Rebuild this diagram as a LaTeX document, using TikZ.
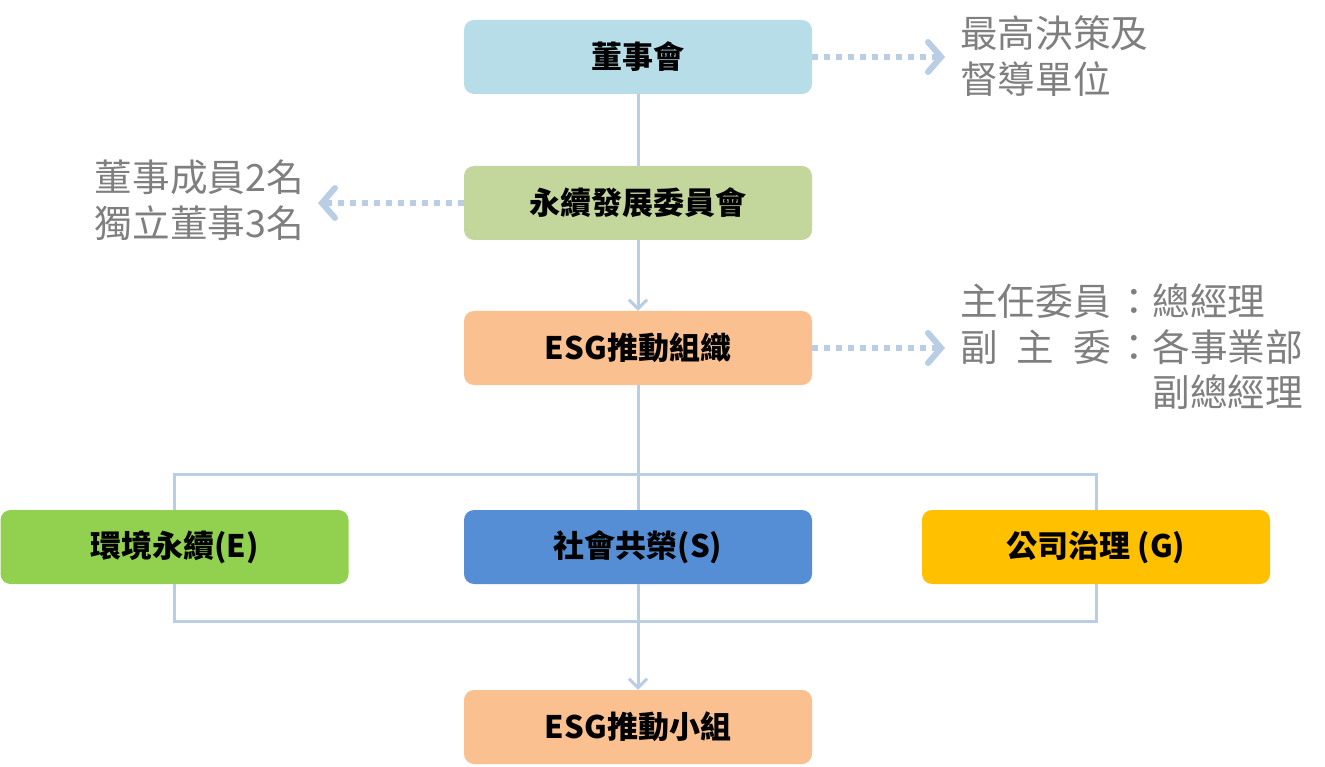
\documentclass[tikz,border=0pt]{standalone}
\usepackage{fontspec}
\setmainfont{Noto Sans CJK TC}
\usetikzlibrary{arrows.meta}
\definecolor{boardc}{HTML}{B7DDE8}
\definecolor{susc}{HTML}{C3D69B}
\definecolor{orgc}{HTML}{FAC090}
\definecolor{envc}{HTML}{92D050}
\definecolor{socc}{HTML}{558ED5}
\definecolor{govc}{HTML}{FFC000}
\definecolor{linec}{HTML}{B9CDE5}
\definecolor{notec}{HTML}{7F7F7F}
\tikzset{
  box/.style={rounded corners=10pt, minimum width=348pt, minimum height=74pt, inner sep=0pt,
    font=\bfseries\fontsize{31}{37}\selectfont, text=black},
  conn/.style={draw=linec, line width=3pt},
  connarrow/.style={conn, -{Straight Barb[length=9pt,width=18pt]}},
  dotarrow/.style={draw=linec, line width=6pt, dash pattern=on 6pt off 6pt,
    -{Straight Barb[length=13pt,width=30pt,line cap=round]}},
  note/.style={text=notec, font=\fontsize{37.6}{45.5}\selectfont, inner sep=0pt, align=left}
}
\begin{document}
\begin{tikzpicture}[x=1pt,y=-1pt]
\useasboundingbox (0,0) rectangle (1325,767);
\fill[white] (0,0) rectangle (1325,767);

\node[box, fill=boardc] (board) at (638,57) {董事會};
\node[box, fill=susc] (sus) at (638,203) {永續發展委員會};
\node[box, fill=orgc] (org) at (638,348) {ESG推動組織};
\node[box, fill=envc] (env) at (174.5,547) {環境永續(E)};
\node[box, fill=socc] (soc) at (638,547) {社會共榮(S)};
\node[box, fill=govc] (gov) at (1096,547) {公司治理 (G)};
\node[box, fill=orgc] (team) at (638,727) {ESG推動小組};

\node[note, anchor=west] (n1) at (960,56) {最高決策及\\督導單位};
\node[note, anchor=east] (n2) at (304,200) {董事成員2名\\獨立董事3名};
\node[note, anchor=west] (n3) at (960,347) {\makebox[4em][l]{主任委員}\hspace{0.12em}：總經理\\\makebox[4em][l]{副\hfill 主\hfill 委}\hspace{0.12em}：各事業部\\\hspace*{5.12em}副總經理};

\coordinate (ntip1) at (945,57);
\coordinate (ntip2) at (318,203);
\coordinate (ntip3) at (945,348);
\coordinate (topbar) at (638,474);
\coordinate (botbar) at (638,621);

\draw[conn] (board.south) -- (sus.north);
\draw[connarrow] (sus.south) -- (org.north);
\draw[conn] (org.south) -- (soc.north);
\draw[conn] (env.north) |- (topbar) -| (gov.north);
\draw[conn] (env.south) |- (botbar) -| (gov.south);
\draw[connarrow] (soc.south) -- (team.north);

\draw[dotarrow] (board.east) -- (ntip1);
\draw[dotarrow] (sus.west) -- (ntip2);
\draw[dotarrow] (org.east) -- (ntip3);
\end{tikzpicture}
\end{document}
